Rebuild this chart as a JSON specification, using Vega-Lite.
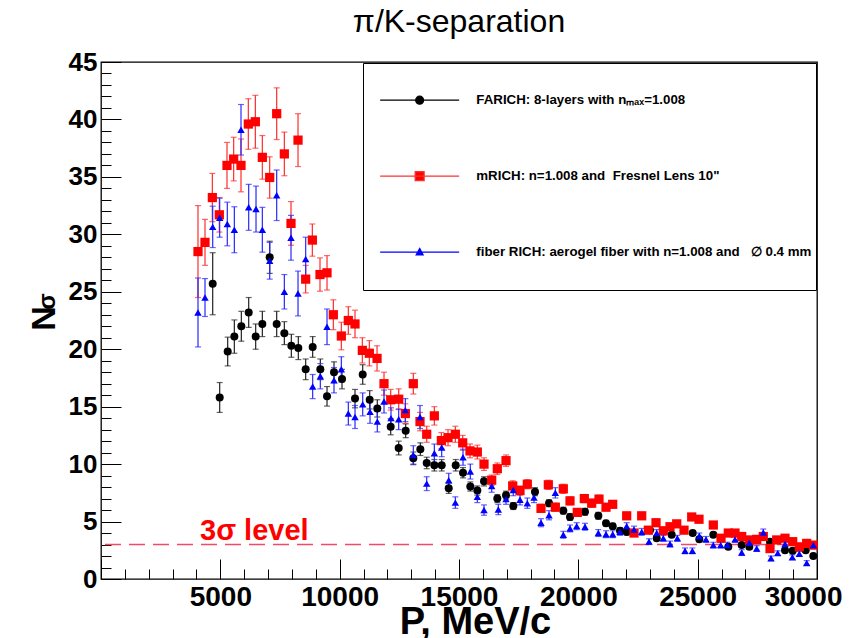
{
  "$schema": "https://vega.github.io/schema/vega-lite/v6.json",
  "width": 716,
  "height": 517,
  "autosize": {"type": "none"},
  "padding": {"left": 101, "top": 62, "right": 37, "bottom": 59},
  "background": "white",
  "config": {
    "font": "Liberation Sans",
    "view": {"stroke": "#000000", "strokeWidth": 1.3}
  },
  "title": {
    "text": "π/K-separation",
    "fontSize": 32,
    "fontWeight": "normal",
    "color": "black",
    "anchor": "middle",
    "frame": "group",
    "offset": 10
  },
  "datasets": {
    "pts": [
      {"s":"FARICH","P":4680,"N":25.7,"e":2.7},
      {"s":"FARICH","P":4973,"N":15.8,"e":1.3},
      {"s":"FARICH","P":5308,"N":19.8,"e":1.25},
      {"s":"FARICH","P":5587,"N":21.1,"e":1.45},
      {"s":"FARICH","P":5880,"N":22.0,"e":1.3},
      {"s":"FARICH","P":6188,"N":23.2,"e":1.3},
      {"s":"FARICH","P":6481,"N":21.1,"e":1.1},
      {"s":"FARICH","P":6760,"N":22.2,"e":1.1},
      {"s":"FARICH","P":7068,"N":28.0,"e":1.4},
      {"s":"FARICH","P":7361,"N":22.2,"e":1.1},
      {"s":"FARICH","P":7682,"N":21.4,"e":1.0},
      {"s":"FARICH","P":7975,"N":20.3,"e":1.0},
      {"s":"FARICH","P":8268,"N":20.1,"e":1.0},
      {"s":"FARICH","P":8576,"N":18.25,"e":0.9},
      {"s":"FARICH","P":8869,"N":20.2,"e":0.9},
      {"s":"FARICH","P":9190,"N":18.25,"e":0.9},
      {"s":"FARICH","P":9470,"N":15.9,"e":0.85},
      {"s":"FARICH","P":9763,"N":18.0,"e":0.9},
      {"s":"FARICH","P":10098,"N":17.4,"e":0.85},
      {"s":"FARICH","P":10643,"N":15.7,"e":0.8},
      {"s":"FARICH","P":10965,"N":17.8,"e":0.85},
      {"s":"FARICH","P":11258,"N":15.6,"e":0.8},
      {"s":"FARICH","P":11577,"N":14.85,"e":0.75},
      {"s":"FARICH","P":12138,"N":13.25,"e":0.7},
      {"s":"FARICH","P":12473,"N":11.4,"e":0.6},
      {"s":"FARICH","P":12766,"N":12.9,"e":0.6},
      {"s":"FARICH","P":13086,"N":10.5,"e":0.55},
      {"s":"FARICH","P":13380,"N":11.3,"e":0.55},
      {"s":"FARICH","P":13647,"N":10.1,"e":0.5},
      {"s":"FARICH","P":13967,"N":9.9,"e":0.5},
      {"s":"FARICH","P":14275,"N":9.9,"e":0.5},
      {"s":"FARICH","P":14569,"N":7.9,"e":0.45},
      {"s":"FARICH","P":14862,"N":9.9,"e":0.5},
      {"s":"FARICH","P":15168,"N":9.25,"e":0.45},
      {"s":"FARICH","P":15474,"N":8.05,"e":0.4},
      {"s":"FARICH","P":15768,"N":7.7,"e":0.4},
      {"s":"FARICH","P":16048,"N":8.5,"e":0.4},
      {"s":"FARICH","P":16605,"N":7.0,"e":0.35},
      {"s":"FARICH","P":16970,"N":7.3,"e":0.35},
      {"s":"FARICH","P":17276,"N":6.35,"e":0.3},
      {"s":"FARICH","P":18185,"N":7.6,"e":0.35},
      {"s":"FARICH","P":18772,"N":6.6,"e":0.3},
      {"s":"FARICH","P":19371,"N":5.95,"e":0.3},
      {"s":"FARICH","P":19651,"N":5.4,"e":0.3},
      {"s":"FARICH","P":20280,"N":5.85,"e":0.3},
      {"s":"FARICH","P":20838,"N":5.5,"e":0.3},
      {"s":"FARICH","P":21160,"N":4.85,"e":0.25},
      {"s":"FARICH","P":21440,"N":4.6,"e":0.25},
      {"s":"FARICH","P":21747,"N":4.2,"e":0.25},
      {"s":"FARICH","P":22026,"N":4.1,"e":0.25},
      {"s":"FARICH","P":23003,"N":4.25,"e":0.25},
      {"s":"FARICH","P":23283,"N":3.55,"e":0.2},
      {"s":"FARICH","P":23911,"N":3.85,"e":0.2},
      {"s":"FARICH","P":24792,"N":4.0,"e":0.2},
      {"s":"FARICH","P":25069,"N":3.45,"e":0.2},
      {"s":"FARICH","P":25656,"N":3.85,"e":0.2},
      {"s":"FARICH","P":26284,"N":2.8,"e":0.2},
      {"s":"FARICH","P":26845,"N":2.95,"e":0.2},
      {"s":"FARICH","P":27164,"N":2.8,"e":0.2},
      {"s":"FARICH","P":28031,"N":3.25,"e":0.2},
      {"s":"FARICH","P":28660,"N":2.5,"e":0.2},
      {"s":"FARICH","P":28982,"N":2.45,"e":0.2},
      {"s":"FARICH","P":29527,"N":2.5,"e":0.2},
      {"s":"FARICH","P":29846,"N":2.0,"e":0.2},

      {"s":"mRICH","P":4064,"N":28.5,"e":4.0},
      {"s":"mRICH","P":4358,"N":29.3,"e":2.0},
      {"s":"mRICH","P":4665,"N":33.2,"e":2.1},
      {"s":"mRICH","P":4958,"N":31.7,"e":1.5},
      {"s":"mRICH","P":5279,"N":36.0,"e":2.0},
      {"s":"mRICH","P":5559,"N":36.55,"e":1.9},
      {"s":"mRICH","P":5866,"N":36.0,"e":2.3},
      {"s":"mRICH","P":6173,"N":39.6,"e":2.2},
      {"s":"mRICH","P":6467,"N":39.8,"e":2.3},
      {"s":"mRICH","P":6760,"N":36.7,"e":1.9},
      {"s":"mRICH","P":7068,"N":34.95,"e":1.8},
      {"s":"mRICH","P":7361,"N":40.5,"e":2.25},
      {"s":"mRICH","P":7682,"N":37.0,"e":1.9},
      {"s":"mRICH","P":7961,"N":30.95,"e":1.9},
      {"s":"mRICH","P":8255,"N":38.2,"e":2.3},
      {"s":"mRICH","P":8576,"N":26.1,"e":1.2},
      {"s":"mRICH","P":8855,"N":29.5,"e":1.4},
      {"s":"mRICH","P":9176,"N":26.5,"e":1.45},
      {"s":"mRICH","P":9470,"N":26.65,"e":1.5},
      {"s":"mRICH","P":9735,"N":23.0,"e":1.3},
      {"s":"mRICH","P":10070,"N":21.15,"e":1.2},
      {"s":"mRICH","P":10363,"N":22.5,"e":1.2},
      {"s":"mRICH","P":10643,"N":22.2,"e":1.2},
      {"s":"mRICH","P":10950,"N":19.9,"e":1.1},
      {"s":"mRICH","P":11244,"N":19.65,"e":1.1},
      {"s":"mRICH","P":11566,"N":19.2,"e":1.1},
      {"s":"mRICH","P":11858,"N":17.0,"e":1.0},
      {"s":"mRICH","P":12138,"N":15.6,"e":0.9},
      {"s":"mRICH","P":12473,"N":15.65,"e":0.9},
      {"s":"mRICH","P":12752,"N":14.4,"e":0.85},
      {"s":"mRICH","P":13086,"N":17.0,"e":0.9},
      {"s":"mRICH","P":13366,"N":13.7,"e":0.8},
      {"s":"mRICH","P":13647,"N":12.6,"e":0.7},
      {"s":"mRICH","P":13967,"N":14.2,"e":0.8},
      {"s":"mRICH","P":14261,"N":12.05,"e":0.7},
      {"s":"mRICH","P":14540,"N":12.3,"e":0.7},
      {"s":"mRICH","P":14847,"N":12.6,"e":0.7},
      {"s":"mRICH","P":15155,"N":11.85,"e":0.65},
      {"s":"mRICH","P":15461,"N":11.15,"e":0.6},
      {"s":"mRICH","P":15768,"N":11.05,"e":0.6},
      {"s":"mRICH","P":16048,"N":10.0,"e":0.55},
      {"s":"mRICH","P":16370,"N":8.6,"e":0.45},
      {"s":"mRICH","P":16605,"N":9.6,"e":0.5},
      {"s":"mRICH","P":16970,"N":10.3,"e":0.5},
      {"s":"mRICH","P":17250,"N":8.1,"e":0.45},
      {"s":"mRICH","P":17556,"N":7.7,"e":0.4},
      {"s":"mRICH","P":17862,"N":8.25,"e":0.4},
      {"s":"mRICH","P":18436,"N":6.15,"e":0.35},
      {"s":"mRICH","P":18743,"N":8.2,"e":0.4},
      {"s":"mRICH","P":19037,"N":6.25,"e":0.35},
      {"s":"mRICH","P":19371,"N":7.85,"e":0.4},
      {"s":"mRICH","P":19651,"N":6.8,"e":0.35},
      {"s":"mRICH","P":19957,"N":5.8,"e":0.3},
      {"s":"mRICH","P":20251,"N":7.0,"e":0.35},
      {"s":"mRICH","P":20559,"N":6.6,"e":0.35},
      {"s":"mRICH","P":20866,"N":6.95,"e":0.35},
      {"s":"mRICH","P":21160,"N":6.25,"e":0.3},
      {"s":"mRICH","P":21440,"N":6.5,"e":0.3},
      {"s":"mRICH","P":22026,"N":5.5,"e":0.3},
      {"s":"mRICH","P":22333,"N":4.0,"e":0.25},
      {"s":"mRICH","P":22655,"N":5.5,"e":0.3},
      {"s":"mRICH","P":22933,"N":4.25,"e":0.25},
      {"s":"mRICH","P":23255,"N":4.9,"e":0.25},
      {"s":"mRICH","P":23561,"N":4.2,"e":0.25},
      {"s":"mRICH","P":23841,"N":4.55,"e":0.25},
      {"s":"mRICH","P":24122,"N":4.8,"e":0.25},
      {"s":"mRICH","P":24428,"N":4.25,"e":0.25},
      {"s":"mRICH","P":24750,"N":5.4,"e":0.25},
      {"s":"mRICH","P":25056,"N":5.2,"e":0.25},
      {"s":"mRICH","P":25656,"N":4.7,"e":0.25},
      {"s":"mRICH","P":25978,"N":3.55,"e":0.2},
      {"s":"mRICH","P":26284,"N":4.0,"e":0.2},
      {"s":"mRICH","P":26565,"N":4.0,"e":0.2},
      {"s":"mRICH","P":26845,"N":3.7,"e":0.2},
      {"s":"mRICH","P":27164,"N":3.4,"e":0.2},
      {"s":"mRICH","P":27474,"N":3.45,"e":0.2},
      {"s":"mRICH","P":27750,"N":3.7,"e":0.2},
      {"s":"mRICH","P":28031,"N":2.65,"e":0.2},
      {"s":"mRICH","P":28312,"N":3.4,"e":0.2},
      {"s":"mRICH","P":28660,"N":3.55,"e":0.2},
      {"s":"mRICH","P":28982,"N":3.25,"e":0.2},
      {"s":"mRICH","P":29259,"N":2.8,"e":0.2},
      {"s":"mRICH","P":29568,"N":3.1,"e":0.2},
      {"s":"mRICH","P":29846,"N":2.95,"e":0.2},

      {"s":"fiber","P":4064,"N":23.2,"e":3.0},
      {"s":"fiber","P":4358,"N":24.5,"e":1.65},
      {"s":"fiber","P":4680,"N":30.65,"e":1.8},
      {"s":"fiber","P":4973,"N":31.45,"e":1.7},
      {"s":"fiber","P":5292,"N":30.9,"e":1.9},
      {"s":"fiber","P":5587,"N":30.4,"e":2.0},
      {"s":"fiber","P":5866,"N":39.1,"e":2.2},
      {"s":"fiber","P":6188,"N":32.35,"e":2.0},
      {"s":"fiber","P":6495,"N":32.2,"e":2.0},
      {"s":"fiber","P":6760,"N":30.4,"e":1.95},
      {"s":"fiber","P":7068,"N":27.7,"e":1.6},
      {"s":"fiber","P":7361,"N":33.4,"e":2.2},
      {"s":"fiber","P":7682,"N":25.0,"e":1.5},
      {"s":"fiber","P":7961,"N":29.7,"e":1.95},
      {"s":"fiber","P":8255,"N":24.85,"e":1.95},
      {"s":"fiber","P":8576,"N":27.85,"e":1.9},
      {"s":"fiber","P":8869,"N":16.75,"e":1.05},
      {"s":"fiber","P":9190,"N":17.65,"e":1.1},
      {"s":"fiber","P":9470,"N":21.95,"e":1.55},
      {"s":"fiber","P":9763,"N":17.3,"e":1.1},
      {"s":"fiber","P":10070,"N":18.25,"e":1.1},
      {"s":"fiber","P":10363,"N":14.4,"e":1.0},
      {"s":"fiber","P":10643,"N":14.1,"e":1.0},
      {"s":"fiber","P":10965,"N":15.2,"e":1.0},
      {"s":"fiber","P":11272,"N":14.55,"e":1.0},
      {"s":"fiber","P":11577,"N":13.7,"e":0.9},
      {"s":"fiber","P":11858,"N":15.45,"e":1.0},
      {"s":"fiber","P":12151,"N":14.0,"e":0.9},
      {"s":"fiber","P":12473,"N":13.9,"e":0.9},
      {"s":"fiber","P":12752,"N":14.7,"e":1.0},
      {"s":"fiber","P":13086,"N":10.8,"e":0.8},
      {"s":"fiber","P":13366,"N":14.1,"e":1.0},
      {"s":"fiber","P":13647,"N":8.3,"e":0.6},
      {"s":"fiber","P":13967,"N":10.95,"e":0.8},
      {"s":"fiber","P":14275,"N":11.45,"e":0.8},
      {"s":"fiber","P":14569,"N":8.6,"e":0.6},
      {"s":"fiber","P":14847,"N":6.65,"e":0.5},
      {"s":"fiber","P":15168,"N":10.6,"e":0.7},
      {"s":"fiber","P":15474,"N":9.35,"e":0.65},
      {"s":"fiber","P":15768,"N":7.15,"e":0.5},
      {"s":"fiber","P":16048,"N":6.0,"e":0.45},
      {"s":"fiber","P":16370,"N":8.1,"e":0.55},
      {"s":"fiber","P":16647,"N":6.05,"e":0.45},
      {"s":"fiber","P":16970,"N":6.95,"e":0.45},
      {"s":"fiber","P":17276,"N":7.75,"e":0.5},
      {"s":"fiber","P":17556,"N":6.9,"e":0.45},
      {"s":"fiber","P":17862,"N":6.6,"e":0.45},
      {"s":"fiber","P":18143,"N":7.1,"e":0.45},
      {"s":"fiber","P":18436,"N":4.9,"e":0.35},
      {"s":"fiber","P":18772,"N":5.55,"e":0.4},
      {"s":"fiber","P":19037,"N":7.5,"e":0.45},
      {"s":"fiber","P":19371,"N":3.85,"e":0.3},
      {"s":"fiber","P":19651,"N":4.4,"e":0.3},
      {"s":"fiber","P":19931,"N":4.6,"e":0.3},
      {"s":"fiber","P":20280,"N":4.55,"e":0.3},
      {"s":"fiber","P":20838,"N":4.0,"e":0.3},
      {"s":"fiber","P":21160,"N":3.9,"e":0.3},
      {"s":"fiber","P":21440,"N":3.9,"e":0.3},
      {"s":"fiber","P":21747,"N":4.1,"e":0.3},
      {"s":"fiber","P":22026,"N":4.6,"e":0.3},
      {"s":"fiber","P":22333,"N":4.3,"e":0.3},
      {"s":"fiber","P":22655,"N":4.1,"e":0.3},
      {"s":"fiber","P":22961,"N":3.25,"e":0.25},
      {"s":"fiber","P":23283,"N":4.0,"e":0.3},
      {"s":"fiber","P":23561,"N":3.55,"e":0.25},
      {"s":"fiber","P":23841,"N":3.05,"e":0.25},
      {"s":"fiber","P":24148,"N":3.55,"e":0.25},
      {"s":"fiber","P":24470,"N":2.45,"e":0.25},
      {"s":"fiber","P":24778,"N":2.45,"e":0.25},
      {"s":"fiber","P":25069,"N":3.75,"e":0.25},
      {"s":"fiber","P":25350,"N":3.45,"e":0.25},
      {"s":"fiber","P":25656,"N":2.95,"e":0.25},
      {"s":"fiber","P":25965,"N":2.95,"e":0.25},
      {"s":"fiber","P":26243,"N":2.95,"e":0.25},
      {"s":"fiber","P":26565,"N":3.45,"e":0.25},
      {"s":"fiber","P":26845,"N":2.3,"e":0.25},
      {"s":"fiber","P":27164,"N":3.15,"e":0.25},
      {"s":"fiber","P":27474,"N":2.65,"e":0.25},
      {"s":"fiber","P":27750,"N":4.05,"e":0.3},
      {"s":"fiber","P":28073,"N":1.8,"e":0.2},
      {"s":"fiber","P":28354,"N":2.25,"e":0.2},
      {"s":"fiber","P":28660,"N":3.05,"e":0.25},
      {"s":"fiber","P":28968,"N":1.9,"e":0.2},
      {"s":"fiber","P":29259,"N":2.2,"e":0.2},
      {"s":"fiber","P":29568,"N":1.4,"e":0.2},
      {"s":"fiber","P":29846,"N":2.95,"e":0.25}
    ],
    "note": [{"P": 4150, "N": 3.4, "t": "3σ level"}]
  },
  "resolve": {"axis": {"x": "independent", "y": "independent"}},
  "layer": [
    {
      "description": "3-sigma threshold; this layer also carries the subscript of the y title",
      "data": {"name": "note"},
      "mark": {"type": "rule", "color": "#f2486a", "strokeWidth": 1.5, "strokeDash": [16, 8]},
      "encoding": {
        "y": {
          "datum": 3, "type": "quantitative",
          "scale": {"domain": [0, 45], "nice": false, "zero": false},
          "axis": {
            "orient": "left", "title": "σ", "labels": false, "ticks": false, "domain": false, "grid": false,
            "titleFontSize": 24, "titleFontWeight": "bold", "titleColor": "black",
            "titleAngle": 270, "titleAlign": "center", "titleBaseline": "alphabetic",
            "titleX": -47, "titleY": 239
          }
        }
      }
    },
    {
      "description": "FARICH error bars; also carries the minor tick axes",
      "data": {"name": "pts"},
      "transform": [{"filter": "datum.s === 'FARICH'"}],
      "mark": {"type": "errorbar", "color": "#222222", "thickness": 1.2, "ticks": {"size": 6}},
      "encoding": {
        "x": {
          "field": "P", "type": "quantitative",
          "scale": {"domain": [0, 30000], "nice": false, "zero": false},
          "axis": {
            "orient": "bottom", "title": null, "labels": false, "domain": false, "grid": false,
            "values": [1000,2000,3000,4000,6000,7000,8000,9000,11000,12000,13000,14000,16000,17000,18000,19000,21000,22000,23000,24000,26000,27000,28000,29000],
            "tickSize": -10, "tickColor": "black", "tickWidth": 1
          }
        },
        "y": {
          "field": "N", "type": "quantitative",
          "scale": {"domain": [0, 45], "nice": false, "zero": false},
          "axis": {
            "orient": "left", "title": null, "labels": false, "domain": false, "grid": false,
            "values": [1,2,3,4,6,7,8,9,11,12,13,14,16,17,18,19,21,22,23,24,26,27,28,29,31,32,33,34,36,37,38,39,41,42,43,44],
            "tickSize": -10, "tickColor": "black", "tickWidth": 1
          }
        },
        "yError": {"field": "e"}
      }
    },
    {
      "data": {"name": "pts"},
      "transform": [{"filter": "datum.s === 'mRICH'"}],
      "mark": {"type": "errorbar", "color": "#ff2b2b", "thickness": 1.2, "ticks": {"size": 6}},
      "encoding": {
        "x": {"field": "P", "type": "quantitative", "axis": null},
        "y": {"field": "N", "type": "quantitative", "axis": null},
        "yError": {"field": "e"}
      }
    },
    {
      "data": {"name": "pts"},
      "transform": [{"filter": "datum.s === 'fiber'"}],
      "mark": {"type": "errorbar", "color": "#2828ff", "thickness": 1.2, "ticks": {"size": 6}},
      "encoding": {
        "x": {"field": "P", "type": "quantitative", "axis": null},
        "y": {"field": "N", "type": "quantitative", "axis": null},
        "yError": {"field": "e"}
      }
    },
    {
      "description": "FARICH points; also carries the major tick axes and their titles",
      "data": {"name": "pts"},
      "transform": [{"filter": "datum.s === 'FARICH'"}],
      "mark": {"type": "point", "shape": "circle", "filled": true, "opacity": 1, "color": "#000000", "size": 64},
      "encoding": {
        "x": {
          "field": "P", "type": "quantitative",
          "axis": {
            "orient": "bottom",
            "title": "P, MeV/c",
            "values": [0, 5000, 10000, 15000, 20000, 25000, 30000],
            "labelExpr": "datum.value > 0 ? format(datum.value, 'd') : ''",
            "labelOverlap": false, "labelFlush": true, "labelFlushOffset": 25,
            "labelFontSize": 28, "labelFontWeight": "bold", "labelColor": "black",
            "labelBaseline": "top", "labelPadding": 24,
            "domain": false, "grid": false,
            "tickColor": "black", "tickWidth": 1, "tickSize": -20,
            "titleFontSize": 38, "titleFontWeight": "bold", "titleColor": "black",
            "titleAlign": "center", "titleBaseline": "alphabetic", "titleX": 374, "titleY": 54
          }
        },
        "y": {
          "field": "N", "type": "quantitative",
          "axis": {
            "orient": "left",
            "title": "N",
            "values": [0, 5, 10, 15, 20, 25, 30, 35, 40, 45],
            "labelOverlap": false, "labelFlush": false,
            "labelFontSize": 26, "labelFontWeight": "bold", "labelColor": "black",
            "labelBaseline": "middle", "labelPadding": 24,
            "domain": false, "grid": false,
            "tickColor": "black", "tickWidth": 1, "tickSize": -20,
            "titleFontSize": 34, "titleFontWeight": "bold", "titleColor": "black",
            "titleAngle": 270, "titleAlign": "center", "titleBaseline": "alphabetic",
            "titleX": -47, "titleY": 256
          }
        }
      }
    },
    {
      "data": {"name": "pts"},
      "transform": [{"filter": "datum.s === 'mRICH'"}],
      "mark": {"type": "point", "shape": "square", "filled": true, "opacity": 1, "color": "#ff0000", "size": 85},
      "encoding": {
        "x": {"field": "P", "type": "quantitative", "axis": null},
        "y": {"field": "N", "type": "quantitative", "axis": null}
      }
    },
    {
      "data": {"name": "pts"},
      "transform": [{"filter": "datum.s === 'fiber'"}],
      "mark": {"type": "point", "shape": "triangle-up", "filled": true, "opacity": 1, "color": "#0000ff", "size": 55},
      "encoding": {
        "x": {"field": "P", "type": "quantitative", "axis": null},
        "y": {"field": "N", "type": "quantitative", "axis": null}
      }
    },
    {
      "description": "Legend carrier: no rows survive the filter, so only the legend is drawn",
      "data": {"name": "pts"},
      "transform": [{"filter": "datum.P < 0"}],
      "mark": {"type": "point", "filled": true, "opacity": 1, "strokeWidth": 1.2},
      "encoding": {
        "x": {"field": "P", "type": "quantitative", "axis": null},
        "y": {"field": "N", "type": "quantitative", "axis": null},
        "color": {
          "field": "s", "type": "nominal",
          "scale": {"domain": ["FARICH", "mRICH", "fiber"], "range": ["#000000", "#ff0000", "#0000ff"]},
          "legend": {
            "title": " ", "titleFontSize": 13, "titlePadding": 13.5,
            "orient": "none", "legendX": 262, "legendY": 1,
            "direction": "vertical",
            "padding": 4, "rowPadding": 34,
            "strokeColor": "#000000", "fillColor": "#ffffff", "cornerRadius": 0,
            "symbolSize": 100, "symbolStrokeWidth": 1.2, "symbolOpacity": 1, "symbolOffset": 46,
            "labelFontSize": 13.3, "labelFontWeight": "bold", "labelColor": "black",
            "labelLimit": 600, "labelOffset": 50,
            "labelExpr": "datum.value === 'FARICH' ? 'FARICH: 8-layers with nₘₐₓ=1.008' : datum.value === 'mRICH' ? 'mRICH: n=1.008 and\u00a0 Fresnel Lens 10\"' : 'fiber RICH: aerogel fiber with n=1.008 and\u00a0\u00a0 ∅ 0.4 mm'"
          }
        },
        "stroke": {
          "field": "s", "type": "nominal",
          "scale": {"domain": ["FARICH", "mRICH", "fiber"], "range": ["#000000", "#ff3030", "#0000ff"]}
        },
        "shape": {
          "field": "s", "type": "nominal",
          "scale": {
            "domain": ["FARICH", "mRICH", "fiber"],
            "range": [
              "M-7.9,0H7.9M0,6.2L0,6.2M0.8,0A0.8,0.8,0,1,1,-0.8,0A0.8,0.8,0,1,1,0.8,0Z",
              "M-7.9,0H7.9M0,6.2L0,6.2M-0.9,-0.9H0.9V0.9H-0.9Z",
              "M-7.9,0H7.9M0,6.2L0,6.2M0,-0.75L0.7,0.55H-0.7Z"
            ]
          }
        }
      }
    },
    {
      "data": {"name": "note"},
      "mark": {"type": "text", "align": "left", "baseline": "alphabetic", "fontSize": 29, "fontWeight": "bold", "color": "#ff0000"},
      "encoding": {
        "x": {"field": "P", "type": "quantitative", "axis": null},
        "y": {"field": "N", "type": "quantitative", "axis": null},
        "text": {"field": "t"}
      }
    }
  ]
}
